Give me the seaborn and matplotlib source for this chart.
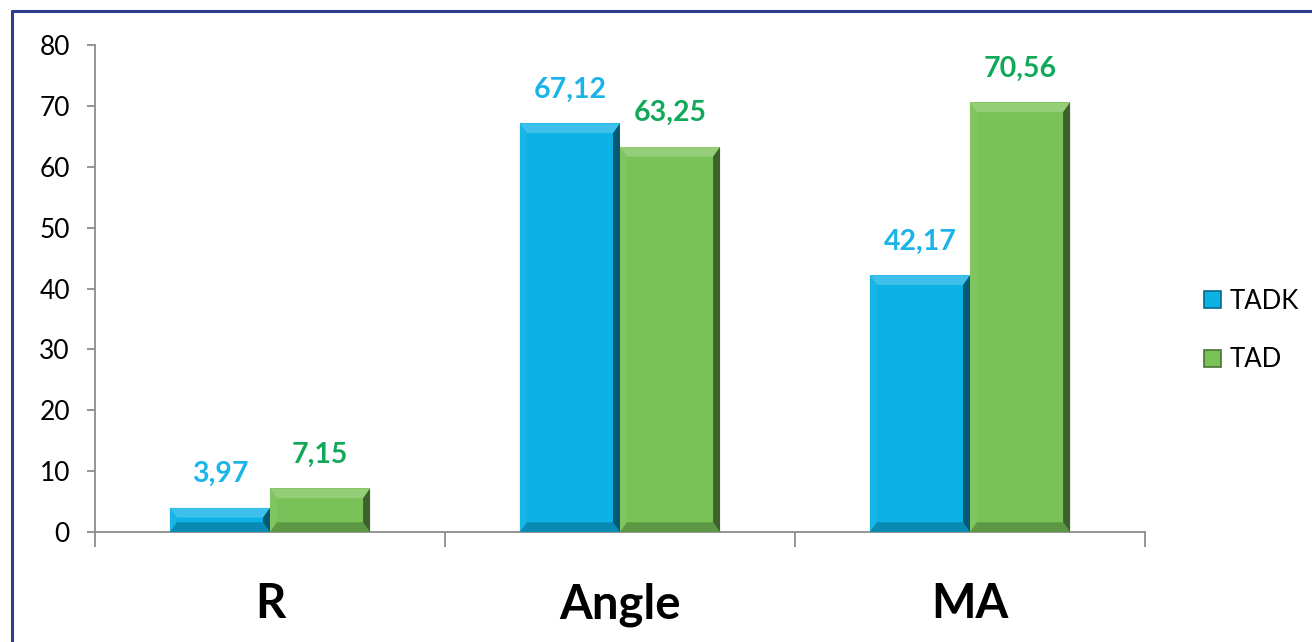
import numpy as np
import pandas as pd
import matplotlib
matplotlib.use('Agg')
import matplotlib.pyplot as plt
import seaborn as sns
from matplotlib.patches import Polygon, Patch
from matplotlib.lines import Line2D
import matplotlib.colors as mcolors

# data
params = ['R', 'Angle', 'MA']
groups = ['TADK', 'TAD']
tadk_values = [3.97, 67.12, 42.17]
tad_values = [7.15, 63.25, 70.56]

bar_colors = ['#0CB1E6', '#79C257']
label_colors = ['#1AB4E8', '#12A85A']

df = pd.DataFrame({
    'param': params * 2,
    'group': [groups[0]] * 3 + [groups[1]] * 3,
    'value': tadk_values + tad_values,
})

sns.set_style('white')
plt.rcParams['font.family'] = ['Lato', 'DejaVu Sans']
plt.rcParams['text.color'] = 'black'
plt.rcParams['xtick.color'] = 'black'
plt.rcParams['ytick.color'] = 'black'

fig = plt.figure(figsize=(13.12, 6.42), dpi=100)
ax = fig.add_axes([0.0724, 0.1713, 0.8003, 0.7586])

sns.barplot(data=df, x='param', y='value', hue='group', order=params,
            hue_order=groups, palette=bar_colors, width=0.572, saturation=1,
            legend=False, ax=ax, edgecolor='none', linewidth=0)


def shade(color, f):
    r, g, b = mcolors.to_rgb(color)
    if f > 0:
        return (r + (1 - r) * f, g + (1 - g) * f, b + (1 - b) * f)
    return (r * (1 + f), g * (1 + f), b * (1 + f))


# fake bevel on every bar, built from the bar geometry seaborn drew
for cont, col in zip(ax.containers, bar_colors):
    for p in cont.patches:
        x0, y0 = p.get_x(), p.get_y()
        w, h = p.get_width(), p.get_height()
        x1, y1 = x0 + w, y0 + h
        dy = min(1.6, h / 2)
        dx = 0.02 * dy / 1.6
        top = [(x0, y1), (x1, y1), (x1 - dx, y1 - dy), (x0 + dx, y1 - dy)]
        bot = [(x0, y0), (x1, y0), (x1 - dx, y0 + dy), (x0 + dx, y0 + dy)]
        left = [(x0, y0), (x0, y1), (x0 + dx, y1 - dy), (x0 + dx, y0 + dy)]
        right = [(x1, y0), (x1, y1), (x1 - dx, y1 - dy), (x1 - dx, y0 + dy)]
        ax.add_patch(Polygon(top, closed=True, fc=shade(col, 0.2), ec='none', zorder=3))
        ax.add_patch(Polygon(left, closed=True, fc=shade(col, 0.05), ec='none', zorder=3))
        ax.add_patch(Polygon(bot, closed=True, fc=shade(col, -0.22), ec='none', zorder=3))
        ax.add_patch(Polygon(right, closed=True, fc=shade(col, -0.5), ec='none', zorder=3))

# value labels with comma decimal
for cont, col in zip(ax.containers, label_colors):
    for p in cont.patches:
        v = p.get_height()
        ax.annotate(f'{v:.2f}'.replace('.', ','),
                    (p.get_x() + p.get_width() / 2, v),
                    xytext=(0, 15), textcoords='offset points',
                    ha='center', va='bottom', fontsize=20.5,
                    fontweight='bold', color=col)

ax.set_xlim(-0.5, 2.5)
ax.set_ylim(0, 80)
ax.set_yticks(np.arange(0, 81, 10))
ax.set_xlabel('')
ax.set_ylabel('')

for s in ['top', 'right']:
    ax.spines[s].set_visible(False)
for s in ['left', 'bottom']:
    ax.spines[s].set_color('#8C8C8C')
    ax.spines[s].set_linewidth(1.3)

ax.tick_params(axis='y', which='major', length=6, width=1.3, color='#8C8C8C',
               labelcolor='black', labelsize=19, pad=12, left=True)
ax.tick_params(axis='x', which='major', length=0, labelsize=34, pad=36,
               labelcolor='black')
ax.set_xticks(np.arange(-0.5, 3, 1), minor=True)
ax.tick_params(axis='x', which='minor', length=11, width=1.3,
               color='#8C8C8C', bottom=True, direction='out')
for t in ax.get_xticklabels():
    t.set_fontweight('bold')

handles = [Patch(facecolor=c, edgecolor=shade(c, -0.4), linewidth=1.2) for c in bar_colors]
fig.legend(handles, groups, loc='center left', bbox_to_anchor=(0.9, 0.485),
           frameon=False, fontsize=18.5, handlelength=0.65, handleheight=0.65,
           handletextpad=0.35, labelspacing=1.3)

# outer frame (only top and left are visible in the crop)
fig.add_artist(Line2D([0.0095, 0.0095], [0, 0.983], color='#2F3E8E', lw=2.2))
fig.add_artist(Line2D([0.0095, 1.0], [0.983, 0.983], color='#2F3E8E', lw=2.2))

fig.savefig('out.png', dpi=100)
